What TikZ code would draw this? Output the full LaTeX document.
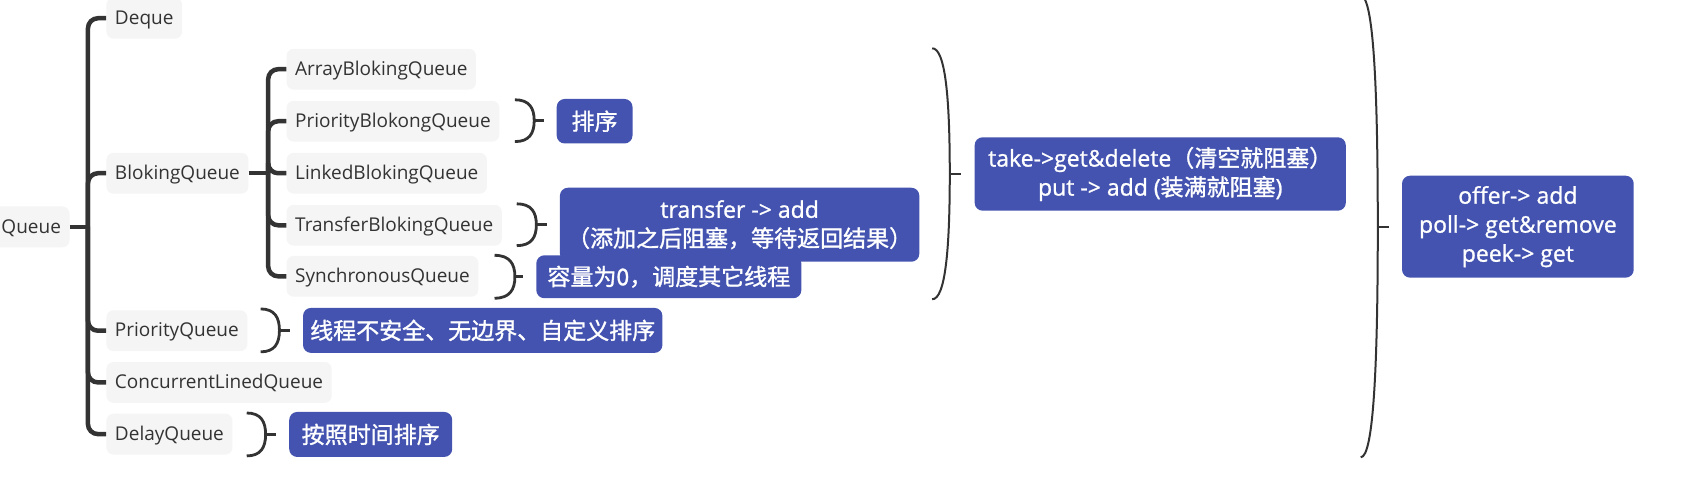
\documentclass[tikz,border=0pt]{standalone}
\usepackage{fontspec}
\setmainfont{Open Sans}
\newfontfamily\cjk[FakeBold=1.3]{Noto Sans CJK SC}
\newfontfamily\notelatin[FakeBold=1.0]{Open Sans}
\newcommand\zh[1]{{\cjk #1}}
\definecolor{treeline}{HTML}{333333}
\definecolor{graybox}{HTML}{F5F5F5}
\definecolor{bluebox}{HTML}{4353AF}
\definecolor{graytext}{HTML}{333333}
\tikzset{
  topic/.style={fill=graybox, rounded corners=7pt, text=graytext,
    font=\fontsize{19}{23}\selectfont, inner xsep=8.6pt, inner ysep=0pt,
    text height=14.3pt, text depth=1.9pt,
    minimum height=40.8pt, anchor=west},
  note/.style={fill=bluebox, rounded corners=8pt, text=white,
    font=\notelatin\fontsize{23}{29}\selectfont, align=center, inner sep=0pt},
  tree/.style={draw=treeline, line width=4.5pt, rounded corners=10pt},
  smallbrace/.style={draw=treeline, line width=2.8pt},
  bigbrace/.style={draw=treeline, line width=2pt}
}
% style, x0, ytop, ybottom, xbulge, xtick
\newcommand\brc[6]{%
  \draw[#1] (#2,#3) .. controls ({#2+0.75*(#5-#2)},#3) and (#5,{#3+0.2*(#4-#3)}) .. (#5,{(#3+#4)/2})
     .. controls (#5,{#4-0.2*(#4-#3)}) and ({#2+0.75*(#5-#2)},#4) .. (#2,#4);
  \draw[#1] (#5,{(#3+#4)/2}) -- (#6,{(#3+#4)/2});}
\begin{document}
\begin{tikzpicture}[x=1.0727pt,y=-1.0727pt]
\useasboundingbox (0,0) rectangle (1568,460.5);

% topics
\node[topic, anchor=east] (Q) at (65,211.5) {Queue};
\node[topic] (deque) at (99,17) {Deque};
\node[topic] (bq) at (99,161.5) {BlokingQueue};
\node[topic] (pq) at (99,308.3) {PriorityQueue};
\node[topic] (clq) at (99,356.5) {ConcurrentLinedQueue};
\node[topic] (dq) at (99,404.7) {DelayQueue};
\node[topic] (abq) at (267,64.5) {ArrayBlokingQueue};
\node[topic] (pbq) at (267,113) {PriorityBlokongQueue};
\node[topic] (lbq) at (267,161.5) {LinkedBlokingQueue};
\node[topic] (tbq) at (267,210) {TransferBlokingQueue};
\node[topic] (sq) at (267,257.6) {SynchronousQueue};

% tree connectors
\coordinate (t1) at (82,211.5);
\draw[tree] (Q.east) -- (t1);
\foreach \c in {deque,bq,pq,clq,dq} \draw[tree] (t1) |- (\c.west);
\coordinate (t2) at (250,161.5);
\draw[tree] (bq.east) -- (t2);
\foreach \c in {abq,pbq,lbq,tbq,sq} \draw[tree] (t2) |- (\c.west);

% braces
\brc{smallbrace}{480}{93}{132}{498}{507}
\brc{smallbrace}{481.7}{190}{229}{500}{509.6}
\brc{smallbrace}{461}{238}{278}{480}{488}
\brc{smallbrace}{243}{288}{328}{260.5}{270.6}
\brc{smallbrace}{230}{385}{425}{247.6}{257.3}
\brc{bigbrace}{869}{45}{279}{885.4}{895.6}
\brc{bigbrace}{1268.5}{-4}{426.3}{1284.4}{1294.7}

% notes
\node[note, minimum width=75.8pt, minimum height=44.5pt] (n1) at (554.3,113) {\zh{排序}};
\node[note, minimum width=359.4pt, minimum height=74pt] (n2) at (689.5,209.5) {transfer -> add\\\zh{（添加之后阻塞，等待返回结果）}};
\node[note, minimum width=265pt, minimum height=42.9pt] (n3) at (623.5,258) {\zh{容量为0，调度其它线程}};
\node[note, minimum width=359.4pt, minimum height=45pt] (n4) at (450,308) {\zh{线程不安全、无边界、自定义排序}};
\node[note, minimum width=163pt, minimum height=45pt] (n5) at (345.6,405) {\zh{按照时间排序}};
\node[note, minimum width=371.2pt, minimum height=73.4pt] (n6) at (1081.6,162.2) {take->get\&delete\zh{（清空就阻塞）}\\put -> add (\zh{装满就阻塞})};
\node[note, minimum width=231.7pt, minimum height=101.9pt] (n7) at (1415,211.3) {offer-> add\\poll-> get\&remove\\peek-> get};
\end{tikzpicture}
\end{document}
